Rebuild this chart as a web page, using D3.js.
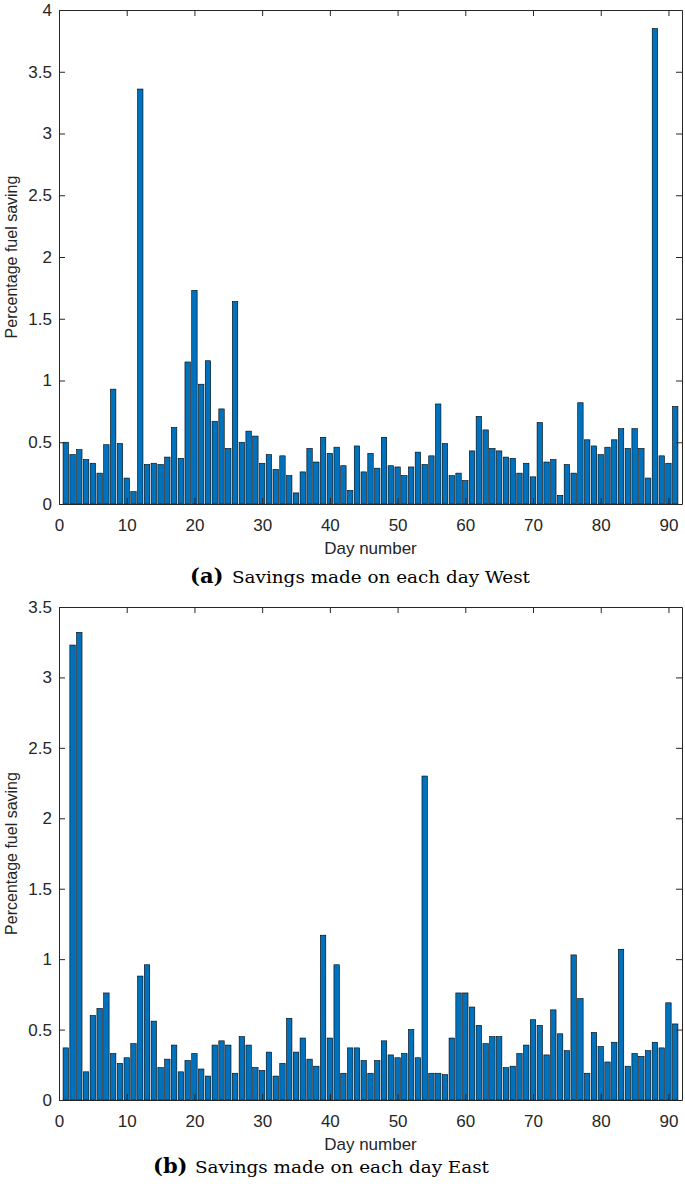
<!DOCTYPE html>
<html><head><meta charset="utf-8">
<script src="https://cdn.jsdelivr.net/npm/d3@7"></script>
<style>body{margin:0;background:#fff}</style></head>
<body><svg id="c" width="685" height="1193"></svg>
<script>
const days = d3.range(1, 92);
const westValues = [0.50,0.40,0.44,0.36,0.33,0.25,0.48,0.93,0.49,0.21,
0.10,3.36,0.32,0.33,0.32,0.38,0.62,0.37,1.15,1.73,
0.97,1.16,0.67,0.77,0.45,1.64,0.50,0.59,0.55,0.33,
0.40,0.28,0.39,0.23,0.09,0.26,0.45,0.34,0.54,0.41,
0.46,0.31,0.11,0.47,0.26,0.41,0.29,0.54,0.31,0.30,
0.23,0.30,0.42,0.32,0.39,0.81,0.49,0.23,0.25,0.19,
0.43,0.71,0.60,0.45,0.43,0.38,0.37,0.25,0.33,0.22,
0.66,0.34,0.36,0.07,0.32,0.25,0.82,0.52,0.47,0.40,
0.46,0.52,0.61,0.45,0.61,0.45,0.21,3.85,0.39,0.33,0.79];
const eastValues = [0.37,3.23,3.32,0.20,0.60,0.65,0.76,0.33,0.26,0.30,
0.40,0.88,0.96,0.56,0.23,0.29,0.39,0.20,0.28,0.33,
0.22,0.17,0.39,0.42,0.39,0.19,0.45,0.39,0.23,0.21,
0.34,0.17,0.26,0.58,0.34,0.44,0.29,0.24,1.17,0.44,
0.96,0.19,0.37,0.37,0.28,0.19,0.28,0.42,0.32,0.30,
0.33,0.50,0.30,2.30,0.19,0.19,0.18,0.44,0.76,0.76,
0.66,0.53,0.40,0.45,0.45,0.23,0.24,0.33,0.39,0.57,
0.53,0.32,0.64,0.47,0.35,1.03,0.72,0.19,0.48,0.38,
0.27,0.41,1.07,0.24,0.33,0.31,0.35,0.41,0.37,0.69,0.54];
const xTicks = [0,10,20,30,40,50,60,70,80,90];
const westYTicks = [0,0.5,1,1.5,2,2.5,3,3.5,4];
const eastYTicks = [0,0.5,1,1.5,2,2.5,3,3.5];

const svg = d3.select("#c");
const axisColor = "#262626";
const sansFont = "'Liberation Sans', Arial, Helvetica, sans-serif";
const serifFont = "'DejaVu Serif', 'Liberation Serif', serif";

function panel(values, yMax, yTicks, top, bottom, letter, capText, capX, capWidth, capBase) {
  const left = 59, right = 682;
  const x = d3.scaleLinear().domain([0, 92]).range([left, right]);
  const y = d3.scaleLinear().domain([0, yMax]).range([bottom, top]);
  const g = svg.append("g");
  const bw = 0.8 * (x(1) - x(0));
  g.selectAll("rect.bar").data(days).join("rect")
    .attr("class","bar")
    .attr("x", d => x(d) - bw/2)
    .attr("width", bw)
    .attr("y", (d,i) => y(values[i]))
    .attr("height", (d,i) => y(0) - y(values[i]))
    .attr("fill", "#0072BD")
    .attr("stroke", "#000")
    .attr("stroke-width", 0.6);

  const fmt = d => String(d);
  const styleAxis = sel => {
    sel.selectAll("path.domain").attr("stroke", axisColor);
    sel.selectAll("line").attr("stroke", axisColor);
    sel.selectAll("text").attr("fill", axisColor).style("font-family", sansFont).style("font-size", "17px");
  };
  g.append("g").attr("transform", `translate(${left},0)`)
    .call(d3.axisLeft(y).tickValues(yTicks).tickFormat(fmt).tickSizeInner(-6).tickSizeOuter(0).tickPadding(7))
    .call(styleAxis);
  g.append("g").attr("transform", `translate(${right},0)`)
    .call(d3.axisRight(y).tickValues(yTicks).tickFormat("").tickSizeInner(-6).tickSizeOuter(0))
    .call(styleAxis);
  g.append("g").attr("transform", `translate(0,${bottom})`)
    .call(d3.axisBottom(x).tickValues(xTicks).tickFormat(fmt).tickSizeInner(-6).tickSizeOuter(0).tickPadding(15))
    .call(styleAxis);
  g.append("g").attr("transform", `translate(0,${top})`)
    .call(d3.axisTop(x).tickValues(xTicks).tickFormat("").tickSizeInner(-6).tickSizeOuter(0))
    .call(styleAxis);
  g.selectAll(".domain").attr("fill","none");

  g.append("text")
    .attr("transform", `translate(17,${(top+bottom)/2}) rotate(-90)`)
    .attr("text-anchor","middle")
    .style("font-family", sansFont).style("font-size","16px").attr("fill", axisColor)
    .text("Percentage fuel saving");
  g.append("text")
    .attr("x", (left+right)/2).attr("y", bottom + 50)
    .attr("text-anchor","middle")
    .style("font-family", sansFont).style("font-size","17px").attr("fill", axisColor)
    .text("Day number");

  g.append("text").attr("x", capX).attr("y", capBase)
    .style("font-family", serifFont).style("font-weight","bold").style("font-size","21px")
    .attr("fill", "#000").text(letter);
  g.append("text").attr("x", capX + 42).attr("y", capBase)
    .style("font-family", serifFont).style("font-size","16px").attr("fill","#000")
    .attr("textLength", capWidth).attr("lengthAdjust","spacingAndGlyphs")
    .text(capText);
}

panel(westValues, 4, westYTicks, 10, 504, "(a)", "Savings made on each day West", 190, 298, 583);
panel(eastValues, 3.5, eastYTicks, 607, 1100, "(b)", "Savings made on each day East", 153, 294, 1173);
</script>
</body></html>
